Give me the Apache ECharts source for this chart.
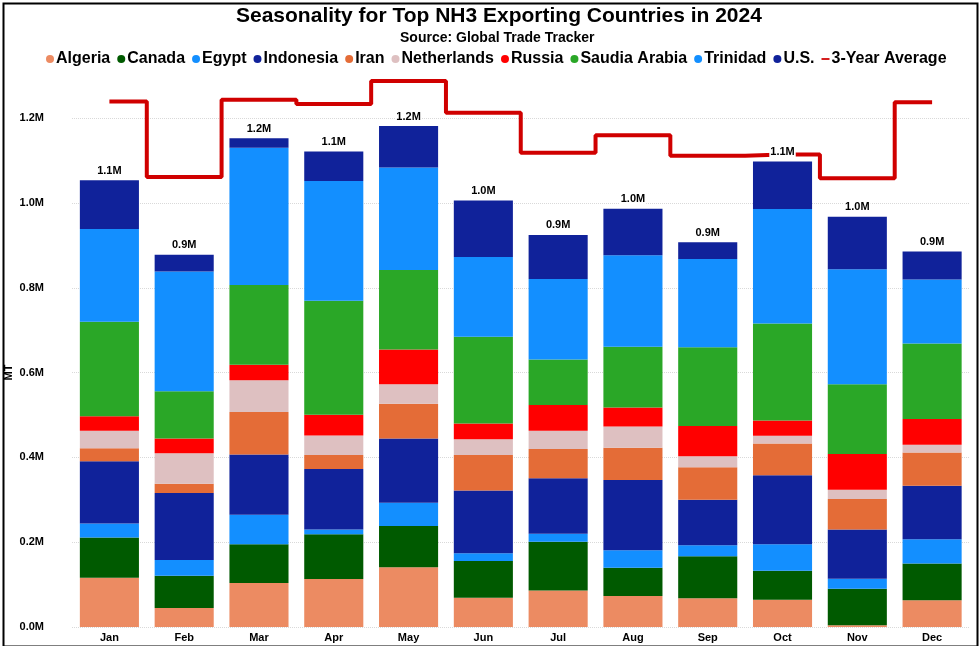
<!DOCTYPE html>
<html>
<head>
    <meta charset="utf-8">
    <title>Seasonality for Top NH3 Exporting Countries in 2024</title>
    <script src="https://cdn.jsdelivr.net/npm/echarts@6/dist/echarts.min.js"></script>
    <style>
        html, body { margin: 0; padding: 0; background: #fff; }
        #chart1 { width: 979px; height: 646px; }
    </style>
</head>
<body>
<div id="chart1"></div>
<script type="text/javascript">
    // values in thousand MT
    var months = ['Jan', 'Feb', 'Mar', 'Apr', 'May', 'Jun', 'Jul', 'Aug', 'Sep', 'Oct', 'Nov', 'Dec'];
    var algeria     = [116, 45, 104, 113, 141, 69, 86, 73, 68, 64, 4, 63];
    var canada      = [95, 76, 91, 106, 97, 87, 115, 67, 99, 69, 86, 87];
    var egypt       = [33, 37, 70, 11, 55, 18, 19, 41, 26, 62, 24, 57];
    var indonesia   = [147, 158, 142, 143, 152, 148, 131, 166, 107, 163, 116, 126];
    var iran        = [31, 22, 100, 33, 82, 84, 69, 76, 77, 75, 72, 79];
    var netherlands = [41, 72, 75, 46, 46, 37, 43, 50, 26, 18, 22, 18];
    var russia      = [34, 35, 37, 49, 82, 37, 61, 45, 71, 36, 84, 61];
    var saudi       = [223, 111, 188, 269, 187, 205, 107, 143, 186, 229, 165, 178];
    var trinidad    = [219, 283, 324, 282, 242, 188, 190, 216, 208, 270, 271, 151];
    var us          = [115, 39, 22, 70, 98, 133, 104, 110, 40, 112, 124, 66];
    var avg3        = [1240, 1062, 1244, 1234, 1288, 1213, 1119, 1160, 1112, 1115, 1059, 1238];
    var yTicks      = [0, 200, 400, 600, 800, 1000, 1200];

    var countries = [
        ['Algeria', algeria, '#ec8b62'],
        ['Canada', canada, '#005a00'],
        ['Egypt', egypt, '#138fff'],
        ['Indonesia', indonesia, '#10229a'],
        ['Iran', iran, '#e46c37'],
        ['Netherlands', netherlands, '#dec0c1'],
        ['Russia', russia, '#ff0000'],
        ['Saudia Arabia', saudi, '#2aa727'],
        ['Trinidad', trinidad, '#138fff'],
        ['U.S.', us, '#10229a']
    ];

    var totals = months.map(function (m, i) {
        var s = 0;
        countries.forEach(function (c) { s += c[1][i]; });
        return s;
    });

    function fmtM(v) {
        return (v / 1000).toFixed(1) + 'M';
    }

    var series = countries.map(function (c, idx) {
        var s = {
            name: c[0],
            type: 'bar',
            stack: 'total',
            barWidth: '79%',
            data: c[1],
            itemStyle: { color: c[2] }
        };
        if (idx === countries.length - 1) {
            s.label = {
                show: true,
                position: 'top',
                distance: 4,
                color: '#000',
                fontFamily: 'Liberation Sans',
                fontWeight: 'bold',
                fontSize: 11,
                backgroundColor: '#fff',
                padding: [0, 1],
                formatter: function (p) { return fmtM(totals[p.dataIndex]); }
            };
        }
        return s;
    });

    series.push({
        name: '3-Year Average',
        type: 'line',
        step: 'middle',
        data: avg3,
        symbol: 'none',
        z: 1,
        lineStyle: { color: '#d00000', width: 4 },
        itemStyle: { color: '#d00000' }
    });

    var legendData = countries.map(function (c) {
        return { name: c[0], icon: 'circle' };
    });
    legendData.push({ name: '3-Year Average', icon: 'path://M0,0h10v2.2h-10z' });

    var myChart1 = echarts.init(document.getElementById('chart1'));
    myChart1.setOption({
        animation: false,
        textStyle: { fontFamily: 'Liberation Sans' },
        graphic: [
            {
                type: 'text', left: 236, top: 6,
                style: { text: 'Seasonality for Top NH3 Exporting Countries in 2024', fill: '#000',
                    font: 'bold 21px "Liberation Sans"' }
            },
            {
                type: 'text', left: 400, top: 31,
                style: { text: 'Source: Global Trade Tracker', fill: '#000',
                    font: 'bold 14px "Liberation Sans"' }
            },
            {
                type: 'rect', left: 1, top: 1, z: 100,
                shape: { width: 974, height: 643 },
                style: { fill: 'none', stroke: '#000', lineWidth: 2 }
            }
        ],
        legend: {
            data: legendData,
            left: 41,
            top: 46,
            itemWidth: 8,
            itemHeight: 8,
            itemGap: 7,
            textStyle: { fontSize: 16, fontWeight: 'bold', color: '#000', padding: [0, 0, 0, -3] }
        },
        grid: { left: 72, right: 9.5, top: 76, bottom: 19, outerBoundsMode: 'none' },
        xAxis: {
            type: 'category',
            data: months,
            axisLine: { show: false },
            axisTick: { show: false },
            axisLabel: { color: '#000', fontWeight: 'bold', fontSize: 11, margin: 5 }
        },
        yAxis: {
            type: 'value',
            min: 0,
            max: 1300,
            interval: 200,
            name: 'MT',
            nameLocation: 'middle',
            nameMoveOverlap: false,
            nameGap: 58,
            nameTextStyle: { color: '#000', fontWeight: 'bold', fontSize: 11, padding: [0, 42, 0, 0] },
            axisLabel: {
                color: '#000', fontWeight: 'bold', fontSize: 11, margin: 28,
                showMaxLabel: false,
                formatter: function (v) { return yTicks.indexOf(v) >= 0 ? fmtM(v) : ''; }
            },
            splitLine: { showMaxLine: false, lineStyle: { color: '#d9d9d9', type: 'dotted' } }
        },
        series: series
    });
</script>
</body>
</html>
